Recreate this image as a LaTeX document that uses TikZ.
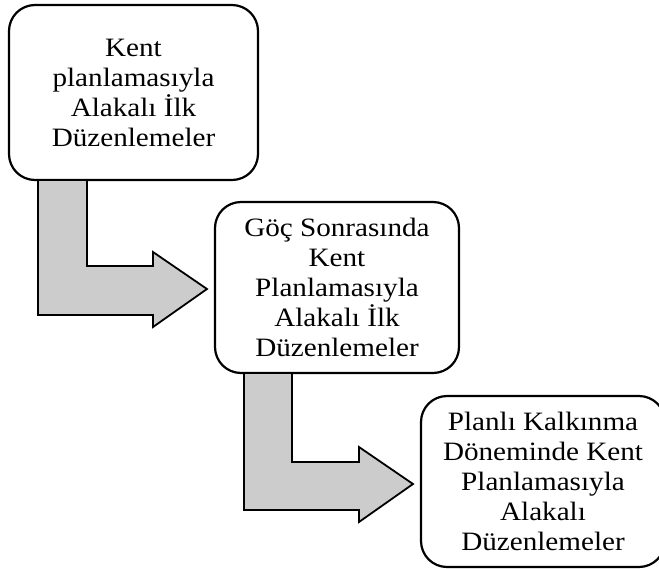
\documentclass[tikz,border=0pt]{standalone}
\usepackage{fontspec}
\setmainfont[FakeStretch=1.1]{Liberation Serif}
\usetikzlibrary{positioning,calc}

\begin{document}
\begin{tikzpicture}[x=0.5pt,y=-0.5pt,
        every node/.style = {inner sep=0pt,outer sep=0pt,align=center,font=\fontsize{13.25}{15}\selectfont},
        box/.style = {draw,line width=1.1pt,rounded corners=13pt,fill=white,minimum width=122pt,minimum height=85.5pt},
        bentarrow/.style = {draw,fill=black!20,line width=0.9pt,line join=miter},
        ]
        \useasboundingbox (0,0) rectangle (659,568);
        \node[box,minimum width=124.5pt,minimum height=87.5pt] (box-1) at (133.5,92.5) {Kent\\planlamasıyla\\Alakalı İlk\\Düzenlemeler};
        \node[box] (box-2) at (337,287.5) {Göç Sonrasında\\Kent\\Planlamasıyla\\Alakalı İlk\\Düzenlemeler};
        \node[box] (box-3) at (543,481.5) {Planlı Kalkınma\\Döneminde Kent\\Planlamasıyla\\Alakalı\\Düzenlemeler};
        \coordinate (tip-1) at ($(box-2.west)+(-8,1.5)$);
        \coordinate (tip-2) at ($(box-3.west)+(-8,2.5)$);
        \draw[bentarrow] ($(box-1.south west)+(29,0)$) -- ++(49,0) |- ($(tip-1)+(-54,-23)$) -- ++(0,-14) -- (tip-1)
            -- ++(-54,38) -- ++(0,-12) -| ($(box-1.south west)+(29,0)$) -- cycle;
        \draw[bentarrow] ($(box-2.south west)+(29,0)$) -- ++(48,0) |- ($(tip-2)+(-54,-22)$) -- ++(0,-15) -- (tip-2)
            -- ++(-54,38) -- ++(0,-12) -| ($(box-2.south west)+(29,0)$) -- cycle;
\end{tikzpicture}
\end{document}
